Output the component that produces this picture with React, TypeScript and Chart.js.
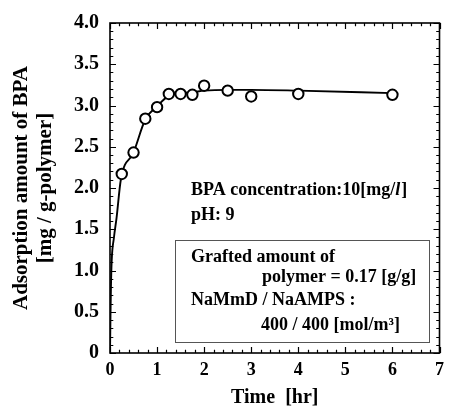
import React, { useEffect, useRef } from 'react';
import { Chart, registerables } from 'chart.js';

Chart.register(...registerables);

// Measured points
const timeHr = [0.25, 0.5, 0.75, 1.0, 1.25, 1.5, 1.75, 2.0, 2.5, 3.0, 4.0, 6.0];
const adsorption = [2.17, 2.43, 2.84, 2.98, 3.14, 3.14, 3.13, 3.24, 3.18, 3.11, 3.14, 3.13];

// Drawn curve
const curveTime = [0, 0.01, 0.02, 0.036, 0.084, 0.14, 0.23, 0.5, 0.75, 1.0, 1.25, 1.5, 1.75, 2.0, 2.5, 3.0, 4.0, 6.0];
const curveAds = [0, 0.45, 0.8, 1.12, 1.4, 1.64, 2.1, 2.43, 2.83, 2.99, 3.12, 3.15, 3.16, 3.18, 3.19, 3.19, 3.18, 3.15];

// Axes
const xMin = 0;
const xMax = 7;
const xMajorStep = 1;
const xMinorStep = 0.2;
const yMin = 0;
const yMax = 4;
const yMajorStep = 0.5;
const yMinorStep = 0.1;

const xTitle = 'Time  [hr]';
const yTitle = ['Adsorption amount of BPA', '[mg / g-polymer]'];

const SERIF = '"Liberation Serif", "Times New Roman", serif';

const frameTicksPlugin = {
  id: 'frameTicks',
  afterDatasetsDraw(chart: any) {
    const { ctx, chartArea: a, scales } = chart;
    const x = scales.x;
    const y = scales.y;
    ctx.save();
    ctx.strokeStyle = '#000';
    ctx.lineWidth = 1.2;
    const nx = Math.round((xMax - xMin) / xMinorStep);
    for (let i = 0; i <= nx; i++) {
      const v = xMin + i * xMinorStep;
      const major = Math.abs(v / xMajorStep - Math.round(v / xMajorStep)) < 1e-6;
      const len = major ? 6 : 3.3;
      const px = Math.round(x.getPixelForValue(v)) + 0.5;
      ctx.beginPath();
      ctx.moveTo(px, a.bottom);
      ctx.lineTo(px, a.bottom - len);
      ctx.moveTo(px, a.top);
      ctx.lineTo(px, a.top + len);
      ctx.stroke();
    }
    const ny = Math.round((yMax - yMin) / yMinorStep);
    for (let i = 0; i <= ny; i++) {
      const v = yMin + i * yMinorStep;
      const major = Math.abs(v / yMajorStep - Math.round(v / yMajorStep)) < 1e-6;
      const len = major ? 6 : 3.3;
      const py = Math.round(y.getPixelForValue(v)) + 0.5;
      ctx.beginPath();
      ctx.moveTo(a.left, py);
      ctx.lineTo(a.left + len, py);
      ctx.moveTo(a.right, py);
      ctx.lineTo(a.right - len, py);
      ctx.stroke();
    }
    ctx.lineWidth = 1.6;
    ctx.strokeRect(a.left, a.top, a.right - a.left, a.bottom - a.top);
    ctx.restore();
  },
  afterDraw(chart: any) {
    const { ctx } = chart;
    ctx.save();
    ctx.fillStyle = '#000';
    ctx.textBaseline = 'alphabetic';
    ctx.textAlign = 'left';
    const bold = `bold 18px ${SERIF}`;
    const boldItalic = `italic bold 18px ${SERIF}`;
    ctx.font = bold;
    // BPA concentration line with italic l
    let tx = 191;
    const ty = 195;
    const p1 = 'BPA concentration:10[mg/';
    ctx.fillText(p1, tx, ty);
    tx += ctx.measureText(p1).width;
    ctx.font = boldItalic;
    ctx.fillText('l', tx, ty);
    tx += ctx.measureText('l').width + 1;
    ctx.font = bold;
    ctx.fillText(']', tx, ty);

    ctx.fillText('pH: 9', 191, 220);

    // box
    ctx.strokeStyle = '#555';
    ctx.lineWidth = 1;
    ctx.strokeRect(175.5, 240.5, 254, 102);

    ctx.fillText('Grafted amount of', 191, 261.5);
    ctx.fillText('polymer = 0.17 [g/g]', 262, 282);
    ctx.fillText('NaMmD / NaAMPS :', 191, 305);
    ctx.fillText('400 / 400 [mol/m\u00B3]', 261, 330);
    ctx.restore();
  },
};

export default function App() {
  const canvasRef = useRef<HTMLCanvasElement | null>(null);

  useEffect(() => {
    document.body.style.margin = '0';
    document.body.style.overflow = 'hidden';
    const canvas = canvasRef.current;
    if (!canvas) return;
    const tickFont = { family: SERIF, weight: 'bold' as const, size: 18 };
    const chart = new Chart(canvas, {
      type: 'scatter',
      data: {
        datasets: [
          {
            label: 'measured',
            data: timeHr.map((t, i) => ({ x: t, y: adsorption[i] })),
            pointRadius: 5.2,
            pointBorderWidth: 2,
            pointBackgroundColor: '#fff',
            pointBorderColor: '#000',
            showLine: false,
            order: 0,
          },
          {
            label: 'curve',
            data: curveTime.map((t, i) => ({ x: t, y: curveAds[i] })),
            showLine: true,
            pointRadius: 0,
            borderColor: '#000',
            borderWidth: 1.9,
            cubicInterpolationMode: 'monotone',
            fill: false,
            order: 1,
          } as any,
        ],
      },
      options: {
        responsive: false,
        animation: false,
        events: [],
        layout: { padding: { top: 21, right: 7, left: 0, bottom: 0 } },
        plugins: { legend: { display: false }, tooltip: { enabled: false } },
        scales: {
          x: {
            type: 'linear',
            min: xMin,
            max: xMax,
            position: 'bottom',
            grid: { display: false, drawTicks: false },
            border: { display: false },
            ticks: {
              stepSize: xMajorStep,
              padding: 7,
              color: '#000',
              font: tickFont,
              autoSkip: false,
              maxRotation: 0,
            },
            title: {
              display: true,
              text: xTitle,
              color: '#000',
              font: { family: SERIF, weight: 'bold', size: 20, lineHeight: 1 },
              padding: { top: 0, bottom: 1 },
            },
            afterFit: (s: any) => {
              s.height = 56;
            },
          },
          y: {
            type: 'linear',
            min: yMin,
            max: yMax,
            grid: { display: false, drawTicks: false },
            border: { display: false },
            ticks: {
              stepSize: yMajorStep,
              padding: 11,
              color: '#000',
              font: { family: SERIF, weight: 'bold', size: 20 },
              callback: (v: any) => (Number(v) === 0 ? '0' : Number(v).toFixed(1)),
            },
            title: {
              display: true,
              text: yTitle,
              color: '#000',
              font: { family: SERIF, weight: 'bold', size: 21, lineHeight: 1.167 },
              padding: { top: 9, bottom: 0 },
            },
            afterFit: (s: any) => {
              s.width = 110;
            },
          },
        },
      } as any,
      plugins: [frameTicksPlugin],
    });
    return () => chart.destroy();
  }, []);

  return <canvas ref={canvasRef} width={451} height={409} style={{ display: 'block' }} />;
}
